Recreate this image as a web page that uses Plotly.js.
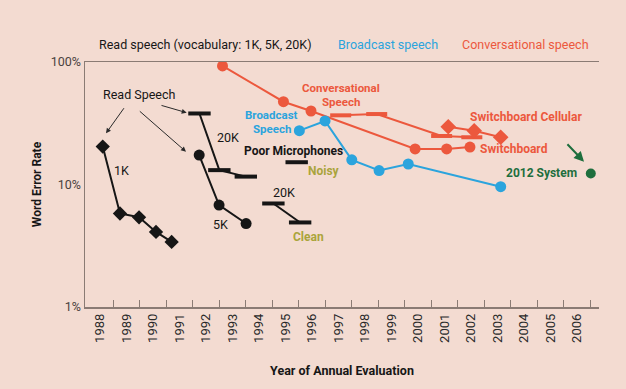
<!DOCTYPE html>
<html><head><meta charset="utf-8">
<script src="https://cdn.plot.ly/plotly-3.0.1.min.js"></script>
<style>html,body{margin:0;padding:0;background:#f3dbd1;}#chart{width:626px;height:389px;}</style>
</head><body><div id="chart"></div>
<script>
// ---- data ----
const yearLabels = ['1988','1989','1990','1991','1992','1993','1994','1995','1996','1997','1998','1999','2000','2001','2002','2003','2004','2005','2006'];
const yearTicks = yearLabels.map(Number);
const yearBounds = [1988.5,1989.5,1990.5,1991.5,1992.5,1993.5,1994.5,1995.5,1996.5,1997.5,1998.5,1999.5,2000.5,2001.5,2002.5,2003.5,2004.5,2005.5,2006.5];
const werTicks = [1, 10, 100];
const werLabels = ['1%', '10%', '100%'];

const read1kX = [1988.1, 1988.75, 1989.47, 1990.11, 1990.7];
const read1kY = [20.4, 5.8, 5.4, 4.1, 3.4];
const read5kX = [1991.74, 1992.49, 1993.51];
const read5kY = [17.4, 6.8, 4.8];
const read20kX = [1991.75, 1992.5, 1993.5];
const read20kY = [38, 13.1, 11.6];
const clean20kX = [1994.54, 1995.55];
const clean20kY = [7.0, 4.9];
const noisyX = [1995.42];
const noisyY = [15.2];
const broadcastX = [1995.52, 1996.49, 1997.5, 1998.53, 1999.63, 2003.12];
const broadcastY = [27.5, 33, 15.9, 13.0, 14.7, 9.6];
const switchboardX = [1992.62, 1994.92, 1995.96, 1999.89, 2001.08, 2001.96];
const switchboardY = [92.8, 47.4, 39.8, 19.5, 19.5, 20.2];
const convBarsX = [1997.08, 1998.44, 2000.89, 2002.03];
const convBarsY = [36.7, 37.6, 24.9, 24.3];
const cellularX = [2001.14, 2002.12, 2003.12];
const cellularY = [29.6, 27.5, 24.3];
const sys2012X = [2006.52];
const sys2012Y = [12.3];

// ---- styling ----
const BLACK = '#161616', RED = '#ec583d', BLUE = '#2ba4dd', GREEN = '#1e6e3d', OLIVE = '#aaa43b', AXIS = '#8a7b74';
const FONT = 'Roboto, "DejaVu Sans", sans-serif';
const L = 85, R = 599, T = 62, B = 307;
const px = v => (v - L) / (R - L);
const py = v => (B - v) / (B - T);

function line(x, y, color, symbol, size, extra) {
  const m = {symbol: symbol, size: size, color: color};
  if (symbol === 'line-ew') m.line = {color: color, width: 4};
  return Object.assign({x: x, y: y, type: 'scatter', mode: 'lines+markers',
    line: {color: color, width: 2}, marker: m, hoverinfo: 'skip', showlegend: false}, extra || {});
}

const traces = [
  line(read1kX, read1kY, BLACK, 'diamond', 11),
  line(read5kX, read5kY, BLACK, 'circle', 11),
  line(read20kX, read20kY, BLACK, 'line-ew', 16),
  line(clean20kX, clean20kY, BLACK, 'line-ew', 16),
  line(noisyX, noisyY, BLACK, 'line-ew', 16),
  line(switchboardX, switchboardY, RED, 'circle', 11),
  line(convBarsX, convBarsY, RED, 'line-ew', 15),
  line(cellularX, cellularY, RED, 'diamond', 12),
  line(broadcastX, broadcastY, BLUE, 'circle', 11),
  line(sys2012X, sys2012Y, GREEN, 'circle', 10),
  {x: [], y: [], xaxis: 'x2', type: 'scatter', mode: 'markers', showlegend: false, hoverinfo: 'skip'}
];

function label(text, x, y, color, bold, size) {
  return {text: bold ? '<b>' + text + '</b>' : text, x: px(x), y: py(y), xref: 'paper', yref: 'paper',
    xanchor: 'center', yanchor: 'middle', showarrow: false, borderpad: 0,
    font: {family: FONT, size: size || 12, color: color}};
}
function arrow(tx, ty, hx, hy, color, width) {
  return {text: '', x: px(hx), y: py(hy), xref: 'paper', yref: 'paper', showarrow: true,
    ax: tx - hx, ay: ty - hy, arrowhead: 2, arrowsize: 1, arrowwidth: width, arrowcolor: color};
}

const annotations = [
  label('Read speech (vocabulary: 1K, 5K, 20K)', 205.5, 44.6, BLACK, false, 12.5),
  label('Broadcast speech', 388, 44.6, BLUE, false, 12.5),
  label('Conversational speech', 525, 44.6, RED, false, 12.5),
  label('Read Speech', 139, 94.3, BLACK, false, 12.5),
  label('1K', 121.7, 170, BLACK, false, 12.5),
  label('20K', 228.3, 137, BLACK, false, 12.5),
  label('5K', 220, 224.3, BLACK, false, 12.5),
  label('20K', 284.2, 192.5, BLACK, false, 12.5),
  label('Clean', 308.3, 236.7, OLIVE, true, 12),
  label('Noisy', 324, 170.7, OLIVE, true, 12),
  label('Poor Microphones', 293.3, 150.7, BLACK, true, 12),
  label('Broadcast', 271.7, 115.2, BLUE, true, 11.5),
  label('Speech', 271.7, 128.6, BLUE, true, 11.5),
  label('Conversational', 340.7, 88.4, RED, true, 11.5),
  label('Speech', 340.7, 101.6, RED, true, 11.5),
  label('Switchboard Cellular', 526, 117.3, RED, true, 12),
  label('Switchboard', 514.3, 149.3, RED, true, 12),
  label('2012 System', 541.7, 173.3, GREEN, true, 12),
  arrow(125, 106.7, 106, 133.3, '#2a2a2a', 1),
  arrow(138.3, 110, 186, 151.7, '#2a2a2a', 1),
  arrow(160, 105, 186.7, 112.7, '#2a2a2a', 1),
  arrow(566, 142.7, 584, 161.7, GREEN, 2)
];

const xr = [1987.43, 2006.83];
const layout = {
  width: 626, height: 389,
  margin: {l: L, r: 626 - R, t: T, b: 389 - B},
  paper_bgcolor: '#f3dbd1', plot_bgcolor: '#f3dbd1',
  font: {family: FONT, color: BLACK},
  showlegend: false,
  xaxis: {range: xr, tickmode: 'array', tickvals: yearTicks, ticktext: yearLabels,
    tickangle: -90, ticks: '', showgrid: false, zeroline: false,
    showline: true, linecolor: AXIS, linewidth: 1.5, mirror: true,
    tickfont: {family: FONT, size: 13, color: '#2a2a2a'},
    title: {text: '<b>Year of Annual Evaluation</b>', font: {family: FONT, size: 12.5, color: BLACK}, standoff: 24}},
  xaxis2: {range: xr, overlaying: 'x', anchor: 'y', side: 'bottom', tickmode: 'array', tickvals: yearBounds,
    ticks: 'inside', ticklen: 7, tickwidth: 1.2, tickcolor: AXIS, showticklabels: false,
    showgrid: false, zeroline: false, showline: false},
  yaxis: {type: 'log', range: [0, 2], tickmode: 'array', tickvals: werTicks, ticktext: werLabels,
    ticks: '', showgrid: false, zeroline: false, showline: true, linecolor: AXIS, linewidth: 1.5,
    tickfont: {family: FONT, size: 12.5, color: '#4a4240'},
    title: {text: '<b>Word Error Rate</b>', font: {family: FONT, size: 12, color: BLACK}, standoff: 6}},
  annotations: annotations
};

Plotly.newPlot('chart', traces, layout, {staticPlot: true, displayModeBar: false});
</script></body></html>
